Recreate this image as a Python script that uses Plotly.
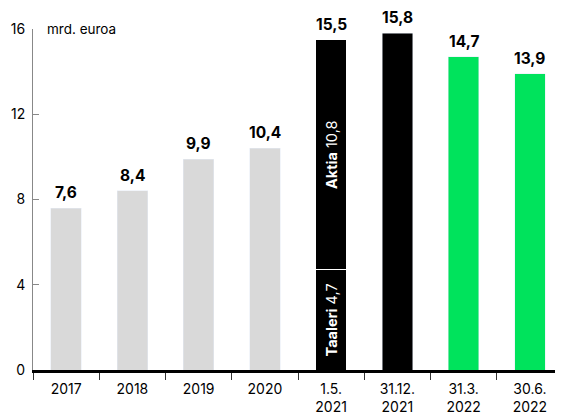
import plotly.graph_objects as go

categories = ["2017", "2018", "2019", "2020", "1.5.2021", "31.12.2021", "31.3.2022", "30.6.2022"]
tick_labels = ["2017", "2018", "2019", "2020", "1.5.<br>2021", "31.12.<br>2021", "31.3.<br>2022", "30.6.<br>2022"]
bar_categories = ["2017", "2018", "2019", "2020", "31.12.2021", "31.3.2022", "30.6.2022"]
bar_values = [7.6, 8.4, 9.9, 10.4, 15.8, 14.7, 13.9]
bar_colors = ["#d9d9d9", "#d9d9d9", "#d9d9d9", "#d9d9d9", "#000000", "#00e35c", "#00e35c"]
stack_cat = "1.5.2021"
stack_names = ["Taaleri", "Aktia"]
stack_values = [4.7, 10.8]
y_ticks = [0, 4, 8, 12, 16]
unit_label = "mrd. euroa"

def fmt(v):
    return f"{v:.1f}".replace(".", ",")

font_family = "Inter, Roboto, sans-serif"

fig = go.Figure()
fig.add_trace(go.Bar(
    x=bar_categories, y=bar_values, marker_color=bar_colors, width=0.46,
    showlegend=False, hoverinfo="skip",
))
for name, v in zip(stack_names, stack_values):
    fig.add_trace(go.Bar(
        x=[stack_cat], y=[v], marker_color="#000000",
        marker_line=dict(color="#ffffff", width=1),
        width=0.46, showlegend=False, hoverinfo="skip",
        text=[f"<b>{name}</b> {fmt(v)}"], textposition="inside",
        insidetextanchor="middle", textangle=-90, constraintext="none",
        textfont=dict(color="white", size=14.5, family=font_family),
    ))

label_x = bar_categories + [stack_cat]
label_y = bar_values + [sum(stack_values)]
for c, t in zip(label_x, label_y):
    fig.add_annotation(x=categories.index(c), y=t, text=f"<b>{fmt(t)}</b>", showarrow=False,
                       yanchor="bottom", yshift=4,
                       font=dict(size=15.5, color="#000", family=font_family))

fig.add_annotation(xref="paper", yref="y", x=0, y=16, xshift=12, text=unit_label,
                   showarrow=False, xanchor="left", yanchor="middle",
                   font=dict(size=13.5, color="#000", family=font_family))

fig.update_layout(
    barmode="stack",
    width=555, height=409,
    margin=dict(l=25, r=0, t=21, b=47),
    plot_bgcolor="white", paper_bgcolor="white",
    font=dict(family=font_family, size=14, color="#000"),
)
fig.update_xaxes(
    type="category", categoryorder="array", categoryarray=categories,
    range=[-0.5, len(categories) - 0.5],
    tickvals=categories, ticktext=tick_labels, tickangle=0,
    showline=True, linecolor="#000", linewidth=3,
    ticks="outside", tickson="boundaries", ticklen=7, tickcolor="#333", tickwidth=1,
    showgrid=False, tickfont=dict(size=14), automargin=False, ticklabelstandoff=4,
)
fig.update_yaxes(
    range=[0, 16], tickvals=y_ticks, showline=True, linecolor="#888", linewidth=1,
    ticks="inside", ticklen=6, tickcolor="#888", showgrid=False, zeroline=False,
    tickfont=dict(size=14), ticklabelstandoff=4, automargin=False,
)

fig.write_html("out.html")
